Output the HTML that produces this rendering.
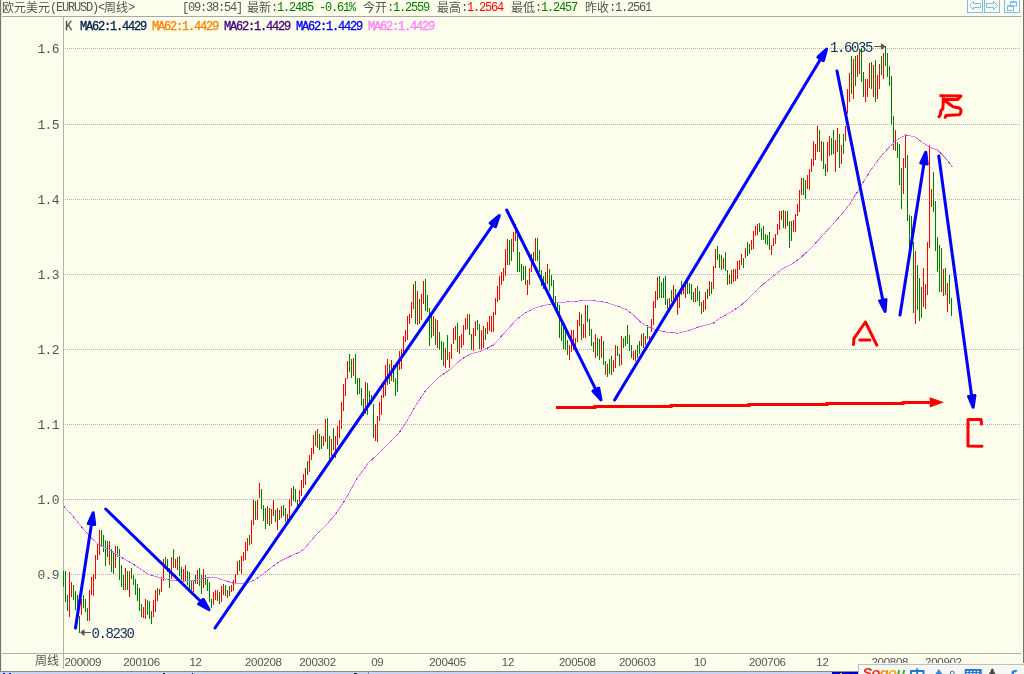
<!DOCTYPE html>
<html><head><meta charset="utf-8"><title>EURUSD</title>
<style>
html,body{margin:0;padding:0;}
body{width:1024px;height:674px;overflow:hidden;background:#fcfdeb;position:relative;font-family:"Liberation Mono","Noto Sans CJK SC",monospace;}
#g{position:absolute;left:0;top:0;}
.t{position:absolute;top:1.5px;margin-left:-1px;height:13px;line-height:13px;font-size:12px;color:#555;white-space:pre;letter-spacing:-1.2px;}
.t b{font-weight:normal;font-size:11.5px;letter-spacing:0.3px;}
.gr{color:#008000;} .rd{color:#ff0000;}
.m{position:absolute;top:20.5px;-webkit-text-stroke:0.3px;height:13px;line-height:13px;font-size:12px;white-space:pre;letter-spacing:-1.2px;}
.yl{position:absolute;left:19px;width:40px;text-align:right;font-size:13px;line-height:16px;height:16px;color:#555;letter-spacing:-0.6px;}
.xl{position:absolute;top:654.5px;height:14px;line-height:14px;font-size:11.5px;color:#555;font-family:"Liberation Sans",sans-serif;letter-spacing:-0.3px;white-space:pre;}
.ann{position:absolute;font-size:14px;line-height:16px;height:16px;color:#10305c;letter-spacing:-1.4px;white-space:pre;}
.sg{position:absolute;left:862.5px;top:664.5px;font:italic bold 14.5px/16px "Liberation Sans",sans-serif;letter-spacing:-0.6px;white-space:pre;}
.cj{font-family:"Liberation Sans","Noto Sans CJK SC",sans-serif;letter-spacing:0;}
</style></head><body>
<svg id="g" width="1024" height="674" viewBox="0 0 1024 674">
<rect x="0" y="0" width="1024" height="674" fill="#fcfdeb"/>
<g shape-rendering="crispEdges">
<rect x="0" y="0" width="1" height="672" fill="#747474"/><rect x="1" y="0" width="1" height="672" fill="#eeeee2"/>
<rect x="1023" y="0" width="1" height="672" fill="#707070"/>
<rect x="2" y="16" width="1019" height="1" fill="#a8a8a8"/>
<rect x="63" y="17" width="1" height="652" fill="#b0b0b0"/>
<rect x="2" y="653" width="1019" height="1" fill="#b0b0b0"/>
<rect x="0" y="671" width="1024" height="1" fill="#8c8c8c"/>
<rect x="0" y="672" width="1024" height="2" fill="#c8d2f2"/>
<rect x="368" y="672" width="1" height="2" fill="#8088b0"/>
<rect x="832" y="672" width="27" height="2" fill="#0000c8"/>
<line x1="65" y1="48.5" x2="1021" y2="48.5" stroke="#b4b4b4" stroke-width="1" stroke-dasharray="1 1"/>
<line x1="65" y1="124.5" x2="1021" y2="124.5" stroke="#b4b4b4" stroke-width="1" stroke-dasharray="1 1"/>
<line x1="65" y1="199.5" x2="1021" y2="199.5" stroke="#b4b4b4" stroke-width="1" stroke-dasharray="1 1"/>
<line x1="65" y1="274.5" x2="1021" y2="274.5" stroke="#b4b4b4" stroke-width="1" stroke-dasharray="1 1"/>
<line x1="65" y1="349.5" x2="1021" y2="349.5" stroke="#b4b4b4" stroke-width="1" stroke-dasharray="1 1"/>
<line x1="65" y1="424.5" x2="1021" y2="424.5" stroke="#b4b4b4" stroke-width="1" stroke-dasharray="1 1"/>
<line x1="65" y1="499.5" x2="1021" y2="499.5" stroke="#b4b4b4" stroke-width="1" stroke-dasharray="1 1"/>
<line x1="65" y1="574.5" x2="1021" y2="574.5" stroke="#b4b4b4" stroke-width="1" stroke-dasharray="1 1"/>
<rect x="63" y="571" width="1" height="16" fill="#008000"/>
<rect x="65" y="571" width="1" height="31" fill="#008000"/>
<rect x="67" y="595" width="1" height="16" fill="#008000"/>
<rect x="69" y="572" width="1" height="45" fill="#ff0000"/>
<rect x="71" y="582" width="1" height="15" fill="#ff0000"/>
<rect x="73" y="585" width="1" height="15" fill="#008000"/>
<rect x="75" y="591" width="1" height="19" fill="#008000"/>
<rect x="77" y="595" width="1" height="20" fill="#008000"/>
<rect x="79" y="616" width="1" height="17" fill="#008000"/>
<rect x="81" y="599" width="1" height="16" fill="#ff0000"/>
<rect x="83" y="595" width="1" height="13" fill="#008000"/>
<rect x="85" y="599" width="1" height="13" fill="#008000"/>
<rect x="87" y="608" width="1" height="13" fill="#008000"/>
<rect x="89" y="590" width="1" height="31" fill="#ff0000"/>
<rect x="91" y="577" width="1" height="18" fill="#ff0000"/>
<rect x="93" y="574" width="1" height="22" fill="#ff0000"/>
<rect x="95" y="555" width="1" height="24" fill="#ff0000"/>
<rect x="97" y="543" width="1" height="17" fill="#ff0000"/>
<rect x="99" y="530" width="1" height="25" fill="#ff0000"/>
<rect x="101" y="530" width="1" height="16" fill="#008000"/>
<rect x="103" y="535" width="1" height="17" fill="#008000"/>
<rect x="105" y="540" width="1" height="26" fill="#008000"/>
<rect x="107" y="541" width="1" height="16" fill="#008000"/>
<rect x="109" y="541" width="1" height="24" fill="#ff0000"/>
<rect x="111" y="549" width="1" height="23" fill="#008000"/>
<rect x="113" y="552" width="1" height="22" fill="#008000"/>
<rect x="115" y="546" width="1" height="22" fill="#ff0000"/>
<rect x="117" y="546" width="1" height="11" fill="#008000"/>
<rect x="119" y="549" width="1" height="31" fill="#008000"/>
<rect x="121" y="565" width="1" height="22" fill="#008000"/>
<rect x="123" y="575" width="1" height="15" fill="#008000"/>
<rect x="125" y="568" width="1" height="22" fill="#ff0000"/>
<rect x="127" y="571" width="1" height="19" fill="#008000"/>
<rect x="129" y="571" width="1" height="26" fill="#ff0000"/>
<rect x="131" y="568" width="1" height="11" fill="#008000"/>
<rect x="133" y="575" width="1" height="10" fill="#008000"/>
<rect x="135" y="579" width="1" height="16" fill="#008000"/>
<rect x="137" y="584" width="1" height="17" fill="#008000"/>
<rect x="139" y="588" width="1" height="23" fill="#008000"/>
<rect x="141" y="604" width="1" height="13" fill="#008000"/>
<rect x="143" y="607" width="1" height="11" fill="#ff0000"/>
<rect x="145" y="599" width="1" height="20" fill="#ff0000"/>
<rect x="147" y="600" width="1" height="15" fill="#008000"/>
<rect x="149" y="601" width="1" height="18" fill="#008000"/>
<rect x="151" y="611" width="1" height="13" fill="#008000"/>
<rect x="153" y="600" width="1" height="17" fill="#ff0000"/>
<rect x="155" y="590" width="1" height="22" fill="#ff0000"/>
<rect x="157" y="588" width="1" height="13" fill="#ff0000"/>
<rect x="159" y="589" width="1" height="6" fill="#008000"/>
<rect x="161" y="577" width="1" height="15" fill="#ff0000"/>
<rect x="163" y="559" width="1" height="22" fill="#ff0000"/>
<rect x="165" y="557" width="1" height="11" fill="#008000"/>
<rect x="167" y="559" width="1" height="13" fill="#008000"/>
<rect x="169" y="568" width="1" height="20" fill="#008000"/>
<rect x="171" y="557" width="1" height="22" fill="#ff0000"/>
<rect x="173" y="549" width="1" height="19" fill="#008000"/>
<rect x="175" y="559" width="1" height="9" fill="#ff0000"/>
<rect x="177" y="557" width="1" height="13" fill="#ff0000"/>
<rect x="179" y="556" width="1" height="20" fill="#008000"/>
<rect x="181" y="567" width="1" height="13" fill="#008000"/>
<rect x="183" y="569" width="1" height="12" fill="#ff0000"/>
<rect x="185" y="565" width="1" height="16" fill="#ff0000"/>
<rect x="187" y="571" width="1" height="14" fill="#008000"/>
<rect x="189" y="572" width="1" height="17" fill="#008000"/>
<rect x="191" y="580" width="1" height="10" fill="#008000"/>
<rect x="193" y="580" width="1" height="12" fill="#ff0000"/>
<rect x="195" y="575" width="1" height="9" fill="#008000"/>
<rect x="197" y="570" width="1" height="14" fill="#ff0000"/>
<rect x="199" y="568" width="1" height="18" fill="#008000"/>
<rect x="201" y="575" width="1" height="19" fill="#008000"/>
<rect x="203" y="569" width="1" height="19" fill="#ff0000"/>
<rect x="205" y="575" width="1" height="10" fill="#008000"/>
<rect x="207" y="579" width="1" height="12" fill="#008000"/>
<rect x="209" y="582" width="1" height="20" fill="#008000"/>
<rect x="211" y="599" width="1" height="9" fill="#008000"/>
<rect x="213" y="592" width="1" height="13" fill="#ff0000"/>
<rect x="215" y="590" width="1" height="10" fill="#ff0000"/>
<rect x="217" y="590" width="1" height="11" fill="#ff0000"/>
<rect x="219" y="592" width="1" height="12" fill="#008000"/>
<rect x="221" y="586" width="1" height="16" fill="#ff0000"/>
<rect x="223" y="584" width="1" height="11" fill="#ff0000"/>
<rect x="225" y="585" width="1" height="11" fill="#008000"/>
<rect x="227" y="590" width="1" height="8" fill="#ff0000"/>
<rect x="229" y="586" width="1" height="10" fill="#008000"/>
<rect x="231" y="585" width="1" height="7" fill="#ff0000"/>
<rect x="233" y="580" width="1" height="11" fill="#ff0000"/>
<rect x="235" y="574" width="1" height="10" fill="#ff0000"/>
<rect x="237" y="561" width="1" height="14" fill="#ff0000"/>
<rect x="239" y="560" width="1" height="11" fill="#008000"/>
<rect x="241" y="556" width="1" height="18" fill="#ff0000"/>
<rect x="243" y="552" width="1" height="9" fill="#ff0000"/>
<rect x="245" y="542" width="1" height="18" fill="#ff0000"/>
<rect x="247" y="538" width="1" height="13" fill="#ff0000"/>
<rect x="249" y="535" width="1" height="10" fill="#008000"/>
<rect x="251" y="520" width="1" height="24" fill="#ff0000"/>
<rect x="253" y="500" width="1" height="25" fill="#ff0000"/>
<rect x="255" y="501" width="1" height="19" fill="#008000"/>
<rect x="257" y="500" width="1" height="20" fill="#ff0000"/>
<rect x="259" y="483" width="1" height="15" fill="#ff0000"/>
<rect x="261" y="489" width="1" height="20" fill="#008000"/>
<rect x="263" y="505" width="1" height="16" fill="#008000"/>
<rect x="265" y="508" width="1" height="21" fill="#008000"/>
<rect x="267" y="506" width="1" height="18" fill="#ff0000"/>
<rect x="269" y="508" width="1" height="18" fill="#008000"/>
<rect x="271" y="509" width="1" height="15" fill="#ff0000"/>
<rect x="273" y="500" width="1" height="16" fill="#ff0000"/>
<rect x="275" y="510" width="1" height="12" fill="#008000"/>
<rect x="277" y="508" width="1" height="22" fill="#ff0000"/>
<rect x="279" y="510" width="1" height="10" fill="#008000"/>
<rect x="281" y="506" width="1" height="12" fill="#ff0000"/>
<rect x="283" y="505" width="1" height="11" fill="#008000"/>
<rect x="285" y="508" width="1" height="14" fill="#008000"/>
<rect x="287" y="514" width="1" height="7" fill="#ff0000"/>
<rect x="289" y="499" width="1" height="19" fill="#ff0000"/>
<rect x="291" y="488" width="1" height="18" fill="#ff0000"/>
<rect x="293" y="486" width="1" height="15" fill="#008000"/>
<rect x="295" y="489" width="1" height="13" fill="#008000"/>
<rect x="297" y="500" width="1" height="8" fill="#008000"/>
<rect x="299" y="490" width="1" height="12" fill="#ff0000"/>
<rect x="301" y="480" width="1" height="16" fill="#ff0000"/>
<rect x="303" y="474" width="1" height="14" fill="#ff0000"/>
<rect x="305" y="468" width="1" height="17" fill="#ff0000"/>
<rect x="307" y="461" width="1" height="14" fill="#008000"/>
<rect x="309" y="455" width="1" height="17" fill="#ff0000"/>
<rect x="311" y="448" width="1" height="12" fill="#ff0000"/>
<rect x="313" y="435" width="1" height="19" fill="#ff0000"/>
<rect x="315" y="431" width="1" height="15" fill="#008000"/>
<rect x="317" y="429" width="1" height="19" fill="#ff0000"/>
<rect x="319" y="434" width="1" height="16" fill="#008000"/>
<rect x="321" y="436" width="1" height="13" fill="#008000"/>
<rect x="323" y="436" width="1" height="10" fill="#ff0000"/>
<rect x="325" y="419" width="1" height="23" fill="#ff0000"/>
<rect x="327" y="418" width="1" height="31" fill="#008000"/>
<rect x="329" y="436" width="1" height="23" fill="#008000"/>
<rect x="331" y="439" width="1" height="17" fill="#ff0000"/>
<rect x="333" y="428" width="1" height="22" fill="#008000"/>
<rect x="335" y="436" width="1" height="22" fill="#ff0000"/>
<rect x="337" y="426" width="1" height="19" fill="#ff0000"/>
<rect x="339" y="420" width="1" height="18" fill="#ff0000"/>
<rect x="341" y="402" width="1" height="27" fill="#ff0000"/>
<rect x="343" y="384" width="1" height="27" fill="#ff0000"/>
<rect x="345" y="378" width="1" height="18" fill="#ff0000"/>
<rect x="347" y="361" width="1" height="18" fill="#ff0000"/>
<rect x="349" y="354" width="1" height="18" fill="#008000"/>
<rect x="351" y="359" width="1" height="19" fill="#008000"/>
<rect x="353" y="358" width="1" height="18" fill="#ff0000"/>
<rect x="355" y="354" width="1" height="30" fill="#008000"/>
<rect x="357" y="378" width="1" height="17" fill="#008000"/>
<rect x="359" y="378" width="1" height="16" fill="#008000"/>
<rect x="361" y="388" width="1" height="18" fill="#008000"/>
<rect x="363" y="399" width="1" height="17" fill="#008000"/>
<rect x="365" y="382" width="1" height="32" fill="#ff0000"/>
<rect x="367" y="383" width="1" height="32" fill="#008000"/>
<rect x="369" y="391" width="1" height="11" fill="#008000"/>
<rect x="371" y="395" width="1" height="9" fill="#008000"/>
<rect x="373" y="404" width="1" height="34" fill="#008000"/>
<rect x="375" y="424" width="1" height="17" fill="#ff0000"/>
<rect x="377" y="416" width="1" height="26" fill="#ff0000"/>
<rect x="379" y="402" width="1" height="19" fill="#ff0000"/>
<rect x="381" y="395" width="1" height="20" fill="#ff0000"/>
<rect x="383" y="386" width="1" height="12" fill="#ff0000"/>
<rect x="385" y="365" width="1" height="31" fill="#ff0000"/>
<rect x="387" y="359" width="1" height="26" fill="#ff0000"/>
<rect x="389" y="364" width="1" height="20" fill="#008000"/>
<rect x="391" y="360" width="1" height="21" fill="#ff0000"/>
<rect x="393" y="365" width="1" height="17" fill="#008000"/>
<rect x="395" y="378" width="1" height="18" fill="#008000"/>
<rect x="397" y="362" width="1" height="30" fill="#008000"/>
<rect x="399" y="351" width="1" height="19" fill="#ff0000"/>
<rect x="401" y="349" width="1" height="20" fill="#ff0000"/>
<rect x="403" y="336" width="1" height="19" fill="#ff0000"/>
<rect x="405" y="330" width="1" height="12" fill="#ff0000"/>
<rect x="407" y="316" width="1" height="24" fill="#ff0000"/>
<rect x="409" y="314" width="1" height="10" fill="#ff0000"/>
<rect x="411" y="302" width="1" height="16" fill="#ff0000"/>
<rect x="413" y="284" width="1" height="25" fill="#ff0000"/>
<rect x="415" y="281" width="1" height="43" fill="#008000"/>
<rect x="417" y="291" width="1" height="34" fill="#ff0000"/>
<rect x="419" y="299" width="1" height="25" fill="#008000"/>
<rect x="421" y="294" width="1" height="26" fill="#ff0000"/>
<rect x="423" y="281" width="1" height="23" fill="#ff0000"/>
<rect x="425" y="279" width="1" height="32" fill="#008000"/>
<rect x="427" y="295" width="1" height="17" fill="#008000"/>
<rect x="429" y="308" width="1" height="38" fill="#008000"/>
<rect x="431" y="315" width="1" height="23" fill="#008000"/>
<rect x="433" y="316" width="1" height="20" fill="#ff0000"/>
<rect x="435" y="319" width="1" height="26" fill="#008000"/>
<rect x="437" y="320" width="1" height="28" fill="#ff0000"/>
<rect x="439" y="332" width="1" height="18" fill="#008000"/>
<rect x="441" y="341" width="1" height="19" fill="#008000"/>
<rect x="443" y="342" width="1" height="24" fill="#008000"/>
<rect x="445" y="348" width="1" height="20" fill="#ff0000"/>
<rect x="447" y="335" width="1" height="25" fill="#008000"/>
<rect x="449" y="352" width="1" height="16" fill="#ff0000"/>
<rect x="451" y="344" width="1" height="15" fill="#ff0000"/>
<rect x="453" y="328" width="1" height="16" fill="#ff0000"/>
<rect x="455" y="326" width="1" height="14" fill="#ff0000"/>
<rect x="457" y="323" width="1" height="29" fill="#008000"/>
<rect x="459" y="336" width="1" height="18" fill="#ff0000"/>
<rect x="461" y="334" width="1" height="14" fill="#ff0000"/>
<rect x="463" y="325" width="1" height="20" fill="#ff0000"/>
<rect x="465" y="318" width="1" height="12" fill="#ff0000"/>
<rect x="467" y="314" width="1" height="15" fill="#ff0000"/>
<rect x="469" y="314" width="1" height="21" fill="#008000"/>
<rect x="471" y="334" width="1" height="16" fill="#008000"/>
<rect x="473" y="328" width="1" height="23" fill="#ff0000"/>
<rect x="475" y="321" width="1" height="15" fill="#ff0000"/>
<rect x="477" y="320" width="1" height="10" fill="#008000"/>
<rect x="479" y="324" width="1" height="25" fill="#008000"/>
<rect x="481" y="330" width="1" height="20" fill="#ff0000"/>
<rect x="483" y="326" width="1" height="22" fill="#ff0000"/>
<rect x="485" y="328" width="1" height="12" fill="#008000"/>
<rect x="487" y="322" width="1" height="12" fill="#ff0000"/>
<rect x="489" y="316" width="1" height="15" fill="#ff0000"/>
<rect x="491" y="316" width="1" height="16" fill="#ff0000"/>
<rect x="493" y="312" width="1" height="20" fill="#ff0000"/>
<rect x="495" y="298" width="1" height="17" fill="#ff0000"/>
<rect x="497" y="286" width="1" height="16" fill="#ff0000"/>
<rect x="499" y="276" width="1" height="24" fill="#ff0000"/>
<rect x="501" y="272" width="1" height="13" fill="#ff0000"/>
<rect x="503" y="268" width="1" height="13" fill="#ff0000"/>
<rect x="505" y="249" width="1" height="27" fill="#ff0000"/>
<rect x="507" y="239" width="1" height="26" fill="#ff0000"/>
<rect x="509" y="240" width="1" height="25" fill="#008000"/>
<rect x="511" y="239" width="1" height="22" fill="#008000"/>
<rect x="513" y="232" width="1" height="20" fill="#ff0000"/>
<rect x="515" y="224" width="1" height="17" fill="#ff0000"/>
<rect x="517" y="235" width="1" height="37" fill="#008000"/>
<rect x="519" y="252" width="1" height="20" fill="#008000"/>
<rect x="521" y="264" width="1" height="17" fill="#008000"/>
<rect x="523" y="266" width="1" height="14" fill="#008000"/>
<rect x="525" y="266" width="1" height="19" fill="#008000"/>
<rect x="527" y="280" width="1" height="15" fill="#ff0000"/>
<rect x="529" y="268" width="1" height="17" fill="#ff0000"/>
<rect x="531" y="254" width="1" height="18" fill="#ff0000"/>
<rect x="533" y="252" width="1" height="10" fill="#008000"/>
<rect x="535" y="238" width="1" height="23" fill="#ff0000"/>
<rect x="537" y="238" width="1" height="23" fill="#008000"/>
<rect x="539" y="250" width="1" height="22" fill="#008000"/>
<rect x="541" y="270" width="1" height="16" fill="#008000"/>
<rect x="543" y="276" width="1" height="13" fill="#008000"/>
<rect x="545" y="272" width="1" height="13" fill="#008000"/>
<rect x="547" y="264" width="1" height="20" fill="#ff0000"/>
<rect x="549" y="269" width="1" height="22" fill="#008000"/>
<rect x="551" y="275" width="1" height="11" fill="#008000"/>
<rect x="553" y="280" width="1" height="21" fill="#008000"/>
<rect x="555" y="296" width="1" height="14" fill="#008000"/>
<rect x="557" y="302" width="1" height="10" fill="#008000"/>
<rect x="559" y="305" width="1" height="33" fill="#008000"/>
<rect x="561" y="321" width="1" height="20" fill="#008000"/>
<rect x="563" y="326" width="1" height="23" fill="#008000"/>
<rect x="565" y="331" width="1" height="19" fill="#008000"/>
<rect x="567" y="340" width="1" height="15" fill="#008000"/>
<rect x="569" y="345" width="1" height="15" fill="#ff0000"/>
<rect x="571" y="330" width="1" height="22" fill="#ff0000"/>
<rect x="573" y="330" width="1" height="20" fill="#ff0000"/>
<rect x="575" y="338" width="1" height="10" fill="#ff0000"/>
<rect x="577" y="320" width="1" height="22" fill="#ff0000"/>
<rect x="579" y="312" width="1" height="14" fill="#ff0000"/>
<rect x="581" y="314" width="1" height="26" fill="#008000"/>
<rect x="583" y="324" width="1" height="14" fill="#ff0000"/>
<rect x="585" y="305" width="1" height="33" fill="#ff0000"/>
<rect x="587" y="305" width="1" height="17" fill="#008000"/>
<rect x="589" y="319" width="1" height="17" fill="#008000"/>
<rect x="591" y="329" width="1" height="17" fill="#008000"/>
<rect x="593" y="342" width="1" height="10" fill="#008000"/>
<rect x="595" y="334" width="1" height="24" fill="#ff0000"/>
<rect x="597" y="338" width="1" height="18" fill="#008000"/>
<rect x="599" y="339" width="1" height="21" fill="#008000"/>
<rect x="601" y="336" width="1" height="22" fill="#ff0000"/>
<rect x="603" y="341" width="1" height="24" fill="#008000"/>
<rect x="605" y="361" width="1" height="14" fill="#008000"/>
<rect x="607" y="364" width="1" height="13" fill="#ff0000"/>
<rect x="609" y="359" width="1" height="15" fill="#008000"/>
<rect x="611" y="356" width="1" height="19" fill="#008000"/>
<rect x="613" y="360" width="1" height="12" fill="#ff0000"/>
<rect x="615" y="345" width="1" height="23" fill="#ff0000"/>
<rect x="617" y="346" width="1" height="10" fill="#008000"/>
<rect x="619" y="354" width="1" height="12" fill="#008000"/>
<rect x="621" y="336" width="1" height="29" fill="#ff0000"/>
<rect x="623" y="338" width="1" height="10" fill="#008000"/>
<rect x="625" y="336" width="1" height="10" fill="#008000"/>
<rect x="627" y="325" width="1" height="19" fill="#008000"/>
<rect x="629" y="335" width="1" height="16" fill="#008000"/>
<rect x="631" y="345" width="1" height="13" fill="#008000"/>
<rect x="633" y="351" width="1" height="9" fill="#ff0000"/>
<rect x="635" y="350" width="1" height="11" fill="#ff0000"/>
<rect x="637" y="345" width="1" height="13" fill="#008000"/>
<rect x="639" y="341" width="1" height="13" fill="#008000"/>
<rect x="641" y="334" width="1" height="12" fill="#ff0000"/>
<rect x="643" y="333" width="1" height="15" fill="#008000"/>
<rect x="645" y="336" width="1" height="9" fill="#ff0000"/>
<rect x="647" y="325" width="1" height="14" fill="#008000"/>
<rect x="649" y="336" width="1" height="6" fill="#ff0000"/>
<rect x="651" y="319" width="1" height="13" fill="#ff0000"/>
<rect x="653" y="301" width="1" height="24" fill="#ff0000"/>
<rect x="655" y="291" width="1" height="17" fill="#ff0000"/>
<rect x="657" y="277" width="1" height="23" fill="#ff0000"/>
<rect x="659" y="276" width="1" height="22" fill="#008000"/>
<rect x="661" y="282" width="1" height="16" fill="#008000"/>
<rect x="663" y="278" width="1" height="20" fill="#008000"/>
<rect x="665" y="276" width="1" height="29" fill="#008000"/>
<rect x="667" y="299" width="1" height="10" fill="#008000"/>
<rect x="669" y="298" width="1" height="12" fill="#ff0000"/>
<rect x="671" y="290" width="1" height="12" fill="#008000"/>
<rect x="673" y="285" width="1" height="15" fill="#ff0000"/>
<rect x="675" y="289" width="1" height="11" fill="#008000"/>
<rect x="677" y="296" width="1" height="19" fill="#ff0000"/>
<rect x="679" y="291" width="1" height="17" fill="#ff0000"/>
<rect x="681" y="281" width="1" height="14" fill="#008000"/>
<rect x="683" y="286" width="1" height="8" fill="#ff0000"/>
<rect x="685" y="284" width="1" height="14" fill="#ff0000"/>
<rect x="687" y="282" width="1" height="12" fill="#008000"/>
<rect x="689" y="283" width="1" height="11" fill="#008000"/>
<rect x="691" y="284" width="1" height="16" fill="#008000"/>
<rect x="693" y="292" width="1" height="10" fill="#008000"/>
<rect x="695" y="288" width="1" height="14" fill="#ff0000"/>
<rect x="697" y="286" width="1" height="15" fill="#008000"/>
<rect x="699" y="291" width="1" height="15" fill="#008000"/>
<rect x="701" y="302" width="1" height="12" fill="#008000"/>
<rect x="703" y="300" width="1" height="12" fill="#ff0000"/>
<rect x="705" y="292" width="1" height="18" fill="#ff0000"/>
<rect x="707" y="289" width="1" height="10" fill="#008000"/>
<rect x="709" y="281" width="1" height="15" fill="#ff0000"/>
<rect x="711" y="282" width="1" height="12" fill="#008000"/>
<rect x="713" y="266" width="1" height="23" fill="#ff0000"/>
<rect x="715" y="249" width="1" height="19" fill="#ff0000"/>
<rect x="717" y="246" width="1" height="14" fill="#008000"/>
<rect x="719" y="254" width="1" height="14" fill="#008000"/>
<rect x="721" y="255" width="1" height="15" fill="#008000"/>
<rect x="723" y="258" width="1" height="11" fill="#ff0000"/>
<rect x="725" y="252" width="1" height="19" fill="#008000"/>
<rect x="727" y="270" width="1" height="15" fill="#008000"/>
<rect x="729" y="274" width="1" height="10" fill="#ff0000"/>
<rect x="731" y="270" width="1" height="14" fill="#008000"/>
<rect x="733" y="269" width="1" height="13" fill="#ff0000"/>
<rect x="735" y="269" width="1" height="12" fill="#ff0000"/>
<rect x="737" y="261" width="1" height="18" fill="#ff0000"/>
<rect x="739" y="260" width="1" height="10" fill="#ff0000"/>
<rect x="741" y="254" width="1" height="11" fill="#ff0000"/>
<rect x="743" y="258" width="1" height="10" fill="#008000"/>
<rect x="745" y="248" width="1" height="10" fill="#ff0000"/>
<rect x="747" y="242" width="1" height="14" fill="#008000"/>
<rect x="749" y="244" width="1" height="10" fill="#008000"/>
<rect x="751" y="240" width="1" height="10" fill="#ff0000"/>
<rect x="753" y="231" width="1" height="18" fill="#ff0000"/>
<rect x="755" y="226" width="1" height="10" fill="#ff0000"/>
<rect x="757" y="224" width="1" height="11" fill="#ff0000"/>
<rect x="759" y="223" width="1" height="9" fill="#008000"/>
<rect x="761" y="228" width="1" height="12" fill="#008000"/>
<rect x="763" y="226" width="1" height="14" fill="#008000"/>
<rect x="765" y="234" width="1" height="10" fill="#008000"/>
<rect x="767" y="235" width="1" height="10" fill="#008000"/>
<rect x="769" y="232" width="1" height="18" fill="#008000"/>
<rect x="771" y="245" width="1" height="10" fill="#ff0000"/>
<rect x="773" y="238" width="1" height="8" fill="#ff0000"/>
<rect x="775" y="234" width="1" height="10" fill="#ff0000"/>
<rect x="777" y="224" width="1" height="11" fill="#ff0000"/>
<rect x="779" y="211" width="1" height="19" fill="#ff0000"/>
<rect x="781" y="211" width="1" height="9" fill="#ff0000"/>
<rect x="783" y="210" width="1" height="18" fill="#008000"/>
<rect x="785" y="211" width="1" height="18" fill="#ff0000"/>
<rect x="787" y="211" width="1" height="15" fill="#008000"/>
<rect x="789" y="221" width="1" height="27" fill="#008000"/>
<rect x="791" y="221" width="1" height="20" fill="#008000"/>
<rect x="793" y="220" width="1" height="12" fill="#ff0000"/>
<rect x="795" y="214" width="1" height="18" fill="#ff0000"/>
<rect x="797" y="204" width="1" height="12" fill="#ff0000"/>
<rect x="799" y="190" width="1" height="22" fill="#ff0000"/>
<rect x="801" y="178" width="1" height="17" fill="#ff0000"/>
<rect x="803" y="178" width="1" height="17" fill="#008000"/>
<rect x="805" y="180" width="1" height="19" fill="#008000"/>
<rect x="807" y="175" width="1" height="14" fill="#ff0000"/>
<rect x="809" y="169" width="1" height="21" fill="#ff0000"/>
<rect x="811" y="159" width="1" height="13" fill="#ff0000"/>
<rect x="813" y="141" width="1" height="25" fill="#ff0000"/>
<rect x="815" y="144" width="1" height="16" fill="#ff0000"/>
<rect x="817" y="126" width="1" height="26" fill="#ff0000"/>
<rect x="819" y="130" width="1" height="22" fill="#008000"/>
<rect x="821" y="141" width="1" height="20" fill="#ff0000"/>
<rect x="823" y="142" width="1" height="27" fill="#008000"/>
<rect x="825" y="164" width="1" height="12" fill="#008000"/>
<rect x="827" y="142" width="1" height="30" fill="#ff0000"/>
<rect x="829" y="136" width="1" height="20" fill="#ff0000"/>
<rect x="831" y="138" width="1" height="17" fill="#008000"/>
<rect x="833" y="130" width="1" height="24" fill="#008000"/>
<rect x="835" y="140" width="1" height="32" fill="#ff0000"/>
<rect x="837" y="128" width="1" height="24" fill="#ff0000"/>
<rect x="839" y="134" width="1" height="34" fill="#008000"/>
<rect x="841" y="145" width="1" height="19" fill="#ff0000"/>
<rect x="843" y="134" width="1" height="20" fill="#008000"/>
<rect x="845" y="126" width="1" height="15" fill="#ff0000"/>
<rect x="847" y="89" width="1" height="25" fill="#ff0000"/>
<rect x="849" y="73" width="1" height="29" fill="#ff0000"/>
<rect x="851" y="56" width="1" height="38" fill="#008000"/>
<rect x="853" y="59" width="1" height="40" fill="#ff0000"/>
<rect x="855" y="56" width="1" height="30" fill="#008000"/>
<rect x="857" y="55" width="1" height="22" fill="#ff0000"/>
<rect x="859" y="51" width="1" height="23" fill="#ff0000"/>
<rect x="861" y="48" width="1" height="34" fill="#008000"/>
<rect x="863" y="72" width="1" height="25" fill="#008000"/>
<rect x="865" y="79" width="1" height="23" fill="#ff0000"/>
<rect x="867" y="79" width="1" height="18" fill="#ff0000"/>
<rect x="869" y="63" width="1" height="25" fill="#ff0000"/>
<rect x="871" y="62" width="1" height="27" fill="#008000"/>
<rect x="873" y="65" width="1" height="32" fill="#ff0000"/>
<rect x="875" y="60" width="1" height="42" fill="#008000"/>
<rect x="877" y="75" width="1" height="24" fill="#ff0000"/>
<rect x="879" y="64" width="1" height="25" fill="#ff0000"/>
<rect x="881" y="56" width="1" height="19" fill="#008000"/>
<rect x="883" y="53" width="1" height="26" fill="#ff0000"/>
<rect x="885" y="46" width="1" height="20" fill="#008000"/>
<rect x="887" y="53" width="1" height="24" fill="#008000"/>
<rect x="889" y="66" width="1" height="20" fill="#008000"/>
<rect x="891" y="76" width="1" height="49" fill="#008000"/>
<rect x="893" y="116" width="1" height="34" fill="#008000"/>
<rect x="895" y="130" width="1" height="21" fill="#ff0000"/>
<rect x="897" y="142" width="1" height="16" fill="#008000"/>
<rect x="899" y="144" width="1" height="41" fill="#008000"/>
<rect x="901" y="168" width="1" height="41" fill="#008000"/>
<rect x="903" y="158" width="1" height="36" fill="#ff0000"/>
<rect x="905" y="134" width="1" height="34" fill="#ff0000"/>
<rect x="907" y="155" width="1" height="66" fill="#008000"/>
<rect x="909" y="215" width="1" height="32" fill="#008000"/>
<rect x="911" y="216" width="1" height="31" fill="#008000"/>
<rect x="913" y="242" width="1" height="71" fill="#008000"/>
<rect x="915" y="251" width="1" height="73" fill="#ff0000"/>
<rect x="917" y="265" width="1" height="45" fill="#008000"/>
<rect x="919" y="278" width="1" height="43" fill="#008000"/>
<rect x="921" y="287" width="1" height="31" fill="#008000"/>
<rect x="923" y="268" width="1" height="39" fill="#ff0000"/>
<rect x="925" y="284" width="1" height="25" fill="#ff0000"/>
<rect x="927" y="242" width="1" height="53" fill="#ff0000"/>
<rect x="929" y="145" width="1" height="103" fill="#ff0000"/>
<rect x="931" y="189" width="1" height="18" fill="#ff0000"/>
<rect x="933" y="172" width="1" height="40" fill="#008000"/>
<rect x="935" y="201" width="1" height="50" fill="#008000"/>
<rect x="937" y="237" width="1" height="35" fill="#008000"/>
<rect x="939" y="245" width="1" height="47" fill="#008000"/>
<rect x="941" y="248" width="1" height="44" fill="#008000"/>
<rect x="943" y="269" width="1" height="27" fill="#ff0000"/>
<rect x="945" y="268" width="1" height="27" fill="#008000"/>
<rect x="947" y="283" width="1" height="29" fill="#ff0000"/>
<rect x="949" y="275" width="1" height="29" fill="#008000"/>
<rect x="951" y="298" width="1" height="18" fill="#008000"/>
</g>
<polyline points="64.0,506.7 73.4,516.7 82.3,527.9 91.2,537.9 100.0,545.7 111.2,551.2 122.4,557.9 135.7,565.7 149.0,574.6 160.2,578.0 171.4,580.2 184.7,581.5 195.0,580.0 205.0,578.0 215.0,577.5 225.0,580.5 235.0,583.8 245.0,583.8 255.0,580.0 265.0,572.5 280.0,561.2 290.0,556.2 300.0,552.0 305.0,548.0 315.0,536.2 325.0,526.2 335.0,515.0 345.0,500.0 350.0,491.2 356.0,480.0 368.5,462.5 378.5,453.8 388.5,443.8 398.5,433.8 406.0,422.5 416.0,405.0 426.0,390.0 438.5,377.5 451.0,368.8 461.0,359.5 471.0,353.8 481.0,351.2 493.5,345.0 506.0,331.2 516.0,320.0 526.0,312.5 536.0,307.5 546.0,305.0 556.0,303.0 566.0,302.0 576.0,301.2 588.5,300.5 598.5,301.2 606.0,302.5 616.0,305.5 626.0,309.5 633.5,315.0 641.0,322.5 648.5,327.0 658.5,330.5 668.5,332.5 678.5,333.2 688.5,330.5 698.5,327.0 706.0,325.0 713.5,323.0 721.0,317.5 731.0,312.0 741.0,305.5 751.0,296.2 761.0,286.2 771.0,278.0 782.5,268.8 792.5,263.8 802.5,256.2 815.0,243.8 827.5,230.0 840.0,216.2 850.0,203.8 860.0,187.5 870.0,171.2 880.0,157.5 890.0,146.2 897.5,139.5 906.2,135.0 915.0,137.0 922.5,142.5 930.0,147.5 937.5,150.0 945.0,157.5 952.5,167.0" fill="none" stroke="#f27af2" stroke-width="1" shape-rendering="crispEdges"/>
<polyline points="64.0,506.7 73.4,516.7 82.3,527.9 91.2,537.9 100.0,545.7 111.2,551.2 122.4,557.9 135.7,565.7 149.0,574.6 160.2,578.0 171.4,580.2 184.7,581.5 195.0,580.0 205.0,578.0 215.0,577.5 225.0,580.5 235.0,583.8 245.0,583.8 255.0,580.0 265.0,572.5 280.0,561.2 290.0,556.2 300.0,552.0 305.0,548.0 315.0,536.2 325.0,526.2 335.0,515.0 345.0,500.0 350.0,491.2 356.0,480.0 368.5,462.5 378.5,453.8 388.5,443.8 398.5,433.8 406.0,422.5 416.0,405.0 426.0,390.0 438.5,377.5 451.0,368.8 461.0,359.5 471.0,353.8 481.0,351.2 493.5,345.0 506.0,331.2 516.0,320.0 526.0,312.5 536.0,307.5 546.0,305.0 556.0,303.0 566.0,302.0 576.0,301.2 588.5,300.5 598.5,301.2 606.0,302.5 616.0,305.5 626.0,309.5 633.5,315.0 641.0,322.5 648.5,327.0 658.5,330.5 668.5,332.5 678.5,333.2 688.5,330.5 698.5,327.0 706.0,325.0 713.5,323.0 721.0,317.5 731.0,312.0 741.0,305.5 751.0,296.2 761.0,286.2 771.0,278.0 782.5,268.8 792.5,263.8 802.5,256.2 815.0,243.8 827.5,230.0 840.0,216.2 850.0,203.8 860.0,187.5 870.0,171.2 880.0,157.5 890.0,146.2 897.5,139.5 906.2,135.0 915.0,137.0 922.5,142.5 930.0,147.5 937.5,150.0 945.0,157.5 952.5,167.0" fill="none" stroke="#8a48d8" stroke-width="1" stroke-dasharray="2 6 2 3 2 11" shape-rendering="crispEdges"/>
<line x1="75.5" y1="628.0" x2="91.8" y2="522.1" stroke="#0000ff" stroke-width="3.05" stroke-linecap="round"/>
<polygon points="93.2,512.7 94.7,524.5 88.3,523.6" fill="#0000ff" stroke="#0000ff" stroke-width="3" stroke-linejoin="round"/>
<line x1="105.7" y1="509.0" x2="202.3" y2="603.0" stroke="#0000ff" stroke-width="3.05" stroke-linecap="round"/>
<polygon points="209.1,609.7 198.6,604.0 203.2,599.3" fill="#0000ff" stroke="#0000ff" stroke-width="3" stroke-linejoin="round"/>
<line x1="215.0" y1="628.0" x2="493.9" y2="223.3" stroke="#0000ff" stroke-width="3.05" stroke-linecap="round"/>
<polygon points="499.3,215.5 495.5,226.8 490.1,223.1" fill="#0000ff" stroke="#0000ff" stroke-width="3" stroke-linejoin="round"/>
<line x1="506.7" y1="210.0" x2="596.7" y2="391.4" stroke="#0000ff" stroke-width="3.05" stroke-linecap="round"/>
<polygon points="601.0,399.9 592.9,391.1 598.8,388.2" fill="#0000ff" stroke="#0000ff" stroke-width="3" stroke-linejoin="round"/>
<line x1="614.6" y1="400.0" x2="821.7" y2="57.2" stroke="#0000ff" stroke-width="3.05" stroke-linecap="round"/>
<polygon points="826.6,49.0 823.4,60.6 817.9,57.2" fill="#0000ff" stroke="#0000ff" stroke-width="3" stroke-linejoin="round"/>
<line x1="837.0" y1="71.0" x2="883.2" y2="302.2" stroke="#0000ff" stroke-width="3.05" stroke-linecap="round"/>
<polygon points="885.1,311.5 879.6,300.9 886.0,299.6" fill="#0000ff" stroke="#0000ff" stroke-width="3" stroke-linejoin="round"/>
<line x1="900.0" y1="315.0" x2="924.3" y2="161.6" stroke="#0000ff" stroke-width="3.05" stroke-linecap="round"/>
<polygon points="925.8,152.2 927.2,164.1 920.8,163.0" fill="#0000ff" stroke="#0000ff" stroke-width="3" stroke-linejoin="round"/>
<line x1="938.8" y1="156.0" x2="971.9" y2="397.9" stroke="#0000ff" stroke-width="3.05" stroke-linecap="round"/>
<polygon points="973.2,407.3 968.5,396.4 974.9,395.5" fill="#0000ff" stroke="#0000ff" stroke-width="3" stroke-linejoin="round"/>
<path d="M556 407.5 L595 407.5 L595 406.5 L671 406.5 L671 405.5 L749 405.5 L749 404.5 L827 404.5 L827 403.5 L903 403.5 L903 402.5 L932 402.5" stroke="#ff0000" stroke-width="3" fill="none"/>
<polygon points="944,402.3 929.8,397.3 929.8,407.6" fill="#ff0000"/>
<path d="M853.5 344.5 L853.9 338.6 L865.4 322 L876.8 345.1 M859.8 340 L869.8 340" stroke="#ff0000" stroke-width="3" fill="none" stroke-linejoin="round" stroke-linecap="round"/>
<path d="M940.8 95.8 L961 96 L957.5 99.6 L945.4 99.6 M943.5 96 L942.9 108.6 L940.9 110.5 L940.3 115 L938.9 116.7 M945.4 101 L953 106.7 L959.4 108 L961 109.9 L960.7 113 L959.4 114.7 L953 115 L946 115.6 L945.2 117.3" stroke="#ff0000" stroke-width="3" fill="none" stroke-linejoin="round" stroke-linecap="round"/>
<path d="M981.5 424 L981 419.5 L968 419.5 L968 446 L982 446.3" stroke="#ff0000" stroke-width="3" fill="none" stroke-linejoin="round" stroke-linecap="round"/>
<!-- nav buttons -->
<g fill="none" stroke="#7ab8ff" stroke-width="1" shape-rendering="crispEdges">
<rect x="967.5" y="-2.5" width="15" height="15"/>
<rect x="984.5" y="-2.5" width="15" height="15"/>
<rect x="1004.5" y="-2.5" width="15" height="15"/>
</g>
<g fill="none" stroke="#7ab8ff" stroke-width="1">
<path d="M969.5 5.5 L973.5 1.2 L973.5 3.5 L980.5 3.5 L980.5 7.5 L973.5 7.5 L973.5 9.8 Z"/>
<path d="M997.5 5.5 L993.5 1.2 L993.5 3.5 L986.5 3.5 L986.5 7.5 L993.5 7.5 L993.5 9.8 Z"/>
<rect x="1010.5" y="2" width="6" height="4"/><rect x="1010" y="1.2" width="7" height="1.6" fill="#7ab8ff" stroke="none"/>
<rect x="1007.5" y="6" width="6" height="4.5" fill="#fcfdeb"/><rect x="1007" y="5.3" width="7" height="1.6" fill="#7ab8ff" stroke="none"/>
</g>
<!-- bottom strip marks -->
<g fill="#0000e0"><rect x="3" y="673" width="2" height="1"/><rect x="9" y="673" width="2" height="1"/><rect x="192" y="673" width="1" height="1"/></g>
<rect x="354" y="673" width="3" height="1" fill="#111"/>
<rect x="163" y="673" width="2" height="1" fill="#111"/>
<rect x="840" y="673" width="2" height="1" fill="#e8e000"/>
<!-- annotation arrows -->
<g stroke="#5a5a5a" stroke-width="1.2" fill="#5a5a5a" stroke-linejoin="round">
<path d="M81 632.5 L91 632.5 M84 630 L81 632.5 L84 635 Z"/>
<path d="M874 46.5 L884.5 46.5 M881.5 44 L884.5 46.5 L881.5 49 Z"/>
</g>
</svg>
<div class="t cj" style="left:3px;letter-spacing:0"><span style="font-size:12px">欧元美元</span></div>
<div class="t" style="left:51px">(EURUSD)&lt;</div>
<div class="t cj" style="left:105px">周线</div>
<div class="t" style="left:129px">&gt;</div>
<div class="t" style="left:183px">[09:38:54]</div>
<div class="t cj" style="left:248px">最新</div><div class="t" style="left:272px">:</div><div class="t gr" style="left:278px">1.2485</div><div class="t gr" style="left:320px">-0.61%</div>
<div class="t cj" style="left:364px">今开</div><div class="t" style="left:388px">:</div><div class="t gr" style="left:394px">1.2559</div>
<div class="t cj" style="left:438px">最高</div><div class="t" style="left:462px">:</div><div class="t rd" style="left:468px">1.2564</div>
<div class="t cj" style="left:512px">最低</div><div class="t" style="left:536px">:</div><div class="t gr" style="left:542px">1.2457</div>
<div class="t cj" style="left:586px">昨收</div><div class="t" style="left:610px">:</div><div class="t" style="left:616px">1.2561</div>
<div class="m" style="left:65px;color:#555">K</div>
<div class="m" style="left:80px;color:#002050">MA62:1.4429</div>
<div class="m" style="left:152px;color:#ff8000">MA62:1.4429</div>
<div class="m" style="left:224px;color:#400080">MA62:1.4429</div>
<div class="m" style="left:296px;color:#0000ff">MA62:1.4429</div>
<div class="m" style="left:368px;color:#ff80ff">MA62:1.4429</div>
<div class="yl" style="top:42px">1.6</div>
<div class="yl" style="top:118px">1.5</div>
<div class="yl" style="top:193px">1.4</div>
<div class="yl" style="top:268px">1.3</div>
<div class="yl" style="top:343px">1.2</div>
<div class="yl" style="top:418px">1.1</div>
<div class="yl" style="top:493px">1.0</div>
<div class="yl" style="top:568px">0.9</div>
<div class="xl" style="left:64.5px">200009</div>
<div class="xl" style="left:123.2px">200106</div>
<div class="xl" style="left:189.5px">12</div>
<div class="xl" style="left:245.0px">200208</div>
<div class="xl" style="left:299.2px">200302</div>
<div class="xl" style="left:371.2px">09</div>
<div class="xl" style="left:429.2px">200405</div>
<div class="xl" style="left:501.8px">12</div>
<div class="xl" style="left:559.0px">200508</div>
<div class="xl" style="left:619.0px">200603</div>
<div class="xl" style="left:694.0px">10</div>
<div class="xl" style="left:749.0px">200706</div>
<div class="xl" style="left:816.3px">12</div>
<div class="xl" style="left:871.5px">200808</div>
<div class="xl" style="left:925.1px">200902</div>
<div class="xl cj" style="left:35px;font-size:12px;top:654px">周线</div>
<svg style="position:absolute;left:0;top:0" width="1024" height="674" viewBox="0 0 1024 674">
<!-- IME toolbar -->
<g shape-rendering="crispEdges">
<rect x="858" y="663" width="166" height="11" fill="#f6f7f2"/>
<rect x="858" y="664" width="166" height="1" fill="#c0c0c0"/>
<rect x="858" y="664" width="1" height="10" fill="#c0c0c0"/>
</g>
<path d="M911 674 L911 671 L923.5 671 L923.5 674 M917.2 668.5 L917.2 674" stroke="#1a78d8" stroke-width="1.9" fill="none"/>
<path d="M935 674.5 L938.8 669 L942.6 674.5 Z" fill="#3088e0"/>
<circle cx="952.3" cy="673" r="1.9" fill="none" stroke="#2a70c8" stroke-width="1"/>
<rect x="964.7" y="669" width="17" height="6" fill="#2a7ad8"/>
<g fill="#f6f7f2"><rect x="966.5" y="671" width="2" height="1"/><rect x="970" y="671" width="2" height="1"/><rect x="973.5" y="671" width="2" height="1"/><rect x="977" y="671" width="2" height="1"/><rect x="966.5" y="673" width="2" height="1"/><rect x="970" y="673" width="2" height="1"/><rect x="973.5" y="673" width="2" height="1"/><rect x="977" y="673" width="2" height="1"/></g>
<path d="M988.5 674.5 L990.5 671.5 L991.3 669 L993.3 668.6 L994 671.5 L996 674.5 Z" fill="#4a4a4a"/>
<path d="M1012 674.5 C1010 671,1013.5 669.3,1017.5 670.2 L1016 672.5 C1014.5 672,1013.5 673,1014.3 674.5 Z" fill="#2a80e0"/>
</svg>
<div class="sg"><span style="color:#e8281c">S</span><span style="color:#e8381c">o</span><span style="color:#f08a18">g</span><span style="color:#f0b010">o</span><span style="color:#48a830">u</span></div>
<div class="ann" style="left:91.5px;top:625.5px">0.8230</div>
<div class="ann" style="left:830px;top:39.5px">1.6035</div>
</body></html>
